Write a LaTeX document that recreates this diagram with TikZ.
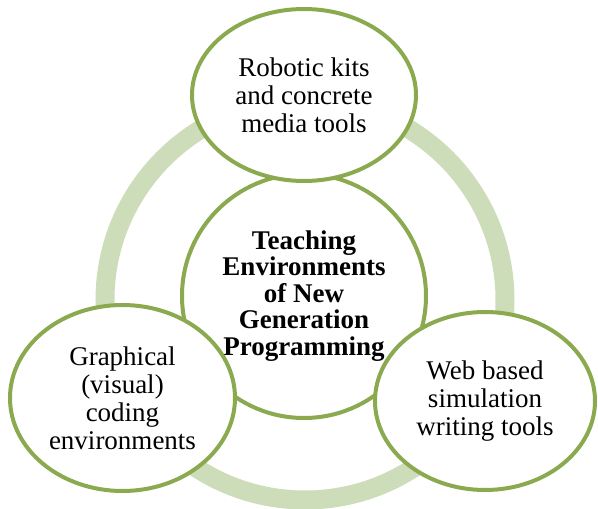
\documentclass[tikz,border=0pt]{standalone}
\usepackage{fontspec}
\setmainfont{Liberation Serif}
\usetikzlibrary{shapes.geometric}
\definecolor{leafline}{RGB}{139,170,80}
\definecolor{leafring}{RGB}{206,221,185}
\tikzstyle{every node}=[font=\fontsize{27}{28}\selectfont, align=center, inner sep=0pt]
\tikzstyle{hubcircle} = [circle, minimum size=244pt, draw=leafline, line width=4pt, fill=white, font=\fontsize{27}{26.5}\selectfont\bfseries]
\tikzstyle{branch} = [ellipse, minimum width=224pt, minimum height=172pt, draw=leafline, line width=4pt, fill=white]
\tikzstyle{backring} = [draw=leafring, line width=19pt]

\begin{document}
\begin{tikzpicture}
        \useasboundingbox (-305pt,-209pt) rectangle (293pt,300pt);
        \draw [backring] (0,0) circle (200pt);
        \node (hub) [hubcircle, xshift=-1pt, yshift=4pt] {Teaching\\Environments\\of New\\Generation\\Programming};
          \node (robots) [branch, xshift=-1pt, yshift=205pt] {Robotic kits\\and concrete\\media tools};
          \node (visual) [branch, minimum width=225pt, minimum height=186pt, xshift=-182.5pt, yshift=-98pt] {Graphical\\(visual)\\coding\\environments};
          \node (websim) [branch, minimum width=220pt, minimum height=178pt, xshift=180pt, yshift=-101pt] {Web based\\simulation\\writing tools};
\end{tikzpicture}
\end{document}
